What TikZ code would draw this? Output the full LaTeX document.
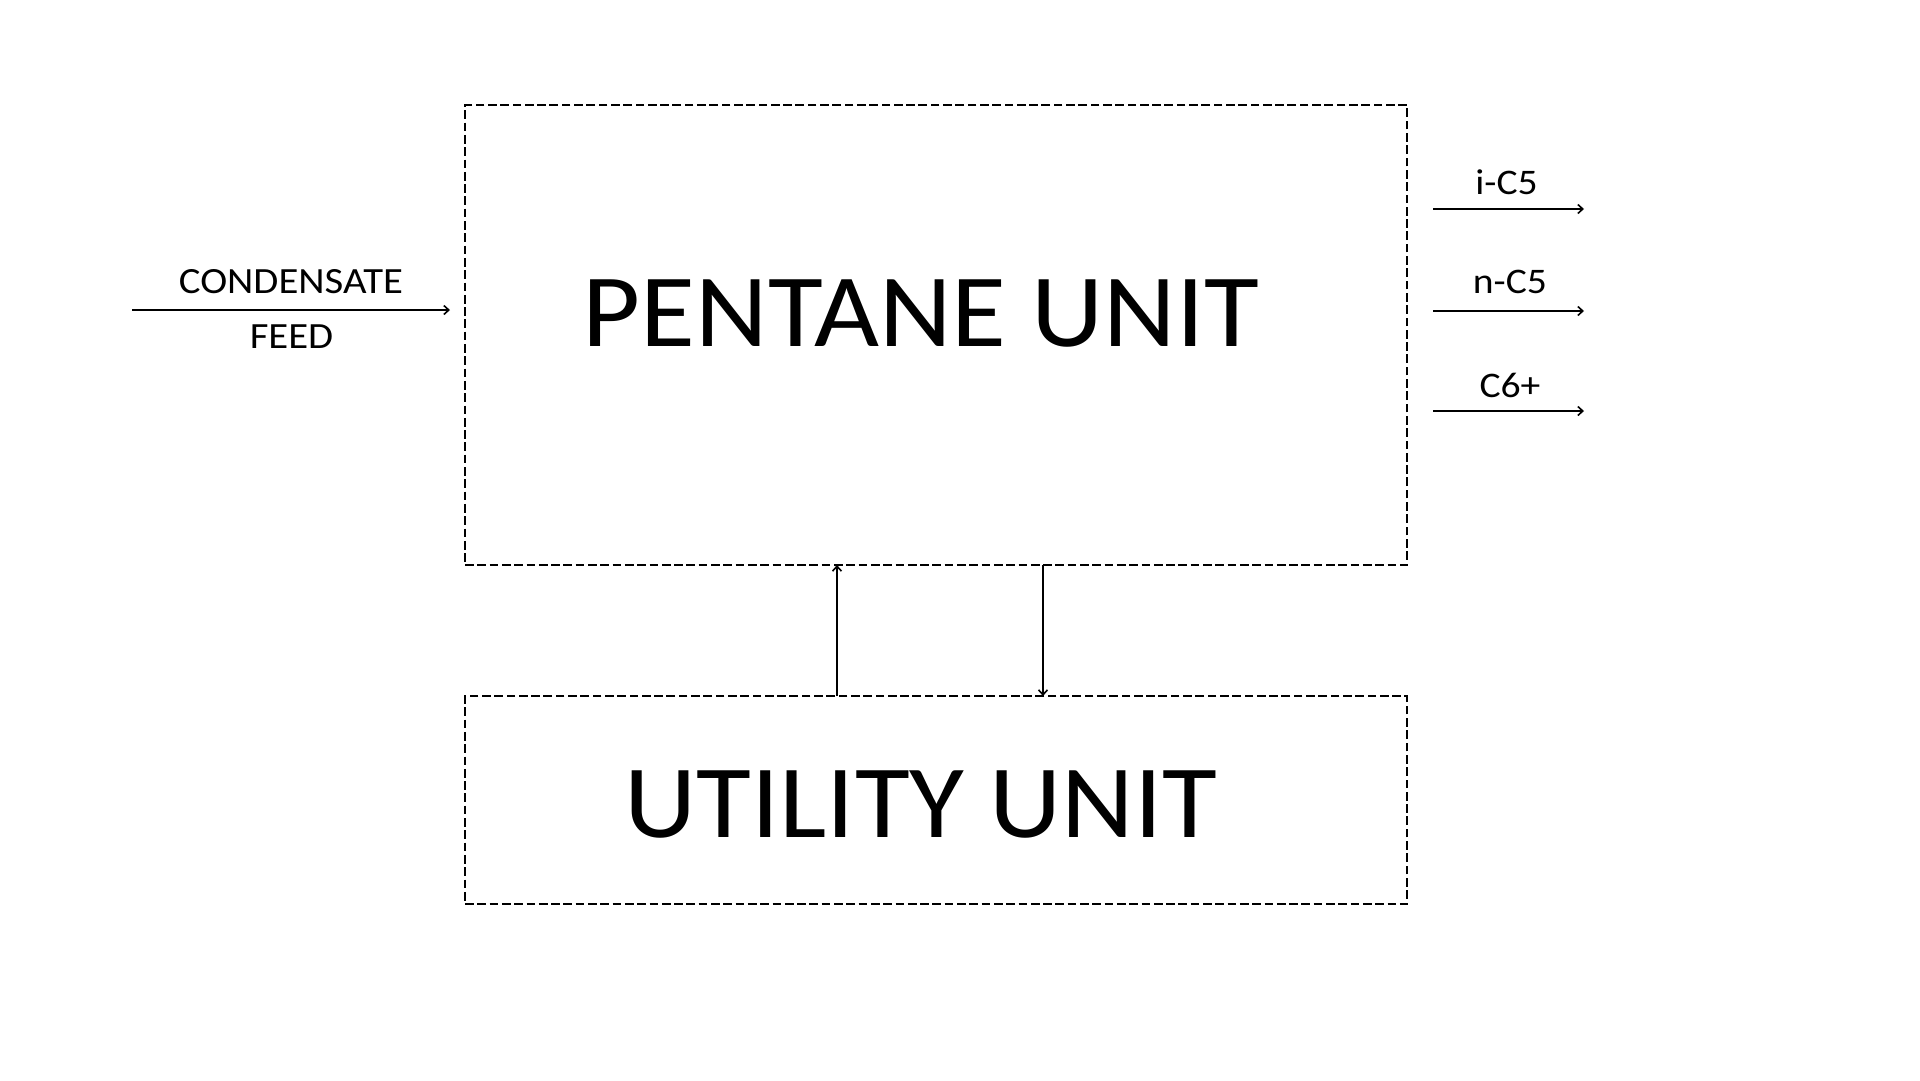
\documentclass[tikz,border=0pt]{standalone}
\usepackage{fontspec}
\setmainfont{Carlito}
\newfontfamily\widebig[FakeStretch=1.08]{Carlito}
\newfontfamily\widesmall[FakeStretch=1.10]{Carlito}
\usetikzlibrary{arrows.meta}
\tikzset{
  unitbox/.style={draw=black, line width=2.2pt, dash pattern=on 8.7pt off 3.6pt, minimum width=942pt, inner sep=0pt, outer sep=0pt},
  flow/.style={draw=black, line width=2pt, -{Straight Barb[length=5pt,width=9pt,line width=1.6pt]}},
  bigtxt/.style={font=\widebig\fontsize{104}{110}\selectfont, anchor=base, inner sep=0pt},
  smalltxt/.style={font=\widesmall\fontsize{37}{40}\selectfont, anchor=base, inner sep=0pt},
  prodtxt/.style={font=\widesmall\fontsize{36}{40}\selectfont, anchor=base, inner sep=0pt},
}
\begin{document}
\begin{tikzpicture}[x=1pt,y=-1pt]
\useasboundingbox[fill=white] (0,0) rectangle (1920,1080);
% boxes
\node[unitbox, minimum height=460pt] (pentane) at (936,335) {};
\node[unitbox, minimum height=208pt] (utility) at (936,800) {};
% titles
\node[bigtxt] (pentanetxt) at (921,346) {PENTANE UNIT};
\node[bigtxt] (utilitytxt) at (921,837) {UTILITY UNIT};
% feed
\coordinate (feedsrc) at (132,310);
\coordinate (feedin) at (450,310);
\draw[flow] (feedsrc) -- (feedin);
\node[smalltxt] (cond) at (291,293) {CONDENSATE};
\node[smalltxt] (feed) at (291.5,348) {FEED};
% products
\coordinate (ic5a) at (1433,209); \coordinate (ic5b) at (1584,209);
\coordinate (nc5a) at (1433,311); \coordinate (nc5b) at (1584,311);
\coordinate (c6a) at (1433,411); \coordinate (c6b) at (1584,411);
\draw[flow] (ic5a) -- (ic5b);
\draw[flow] (nc5a) -- (nc5b);
\draw[flow] (c6a) -- (c6b);
\node[prodtxt] (ic5) at (1506.5,194) {i-C5};
\node[prodtxt] (nc5) at (1510,293) {n-C5};
\node[prodtxt] (c6) at (1510,397) {C6+};
% utility links
\coordinate (upx) at (837,0);
\coordinate (downx) at (1043,0);
\draw[flow] (utility.north -| upx) -- (pentane.south -| upx);
\draw[flow] (pentane.south -| downx) -- (utility.north -| downx);
\end{tikzpicture}
\end{document}
